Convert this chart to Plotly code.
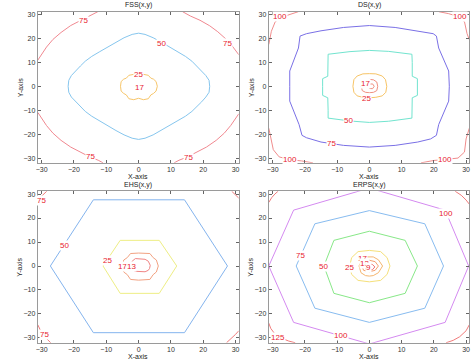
import plotly.graph_objects as go

# ---------------- data ----------------
TICKS = [-30, -20, -10, 0, 10, 20, 30]
TITLES = ["FSS(x,y)", "DS(x,y)", "EHS(x,y)", "ERPS(x,y)"]

# FSS
FSS_25_X = [-5.6, -5.4, -4.6, -3.8, -3.0, -1.5, 0, 1.5, 3.0, 3.8, 4.6, 5.4, 5.8, 5.4, 4.6, 3.8, 3.0, 1.5, 0, -1.5, -3.0, -3.8, -4.6, -5.4, -5.6]
FSS_25_Y = [0, 2.0, 3.0, 3.4, 4.6, 5.0, 4.6, 5.0, 4.6, 3.4, 3.0, 2.0, 0, -2.0, -3.0, -3.6, -5.2, -5.6, -5.0, -5.6, -5.2, -3.6, -3.0, -2.0, 0]
FSS_50_X = [-21.8, -21.6, -20.8, -19.5, -18, -16.5, -14.5, -12, -9.5, -7, -4.5, -2, 0, 2, 4.5, 7, 9.5, 12, 14.5, 16.5, 18, 19.5, 20.8, 21.8, 22,
            21.8, 20.8, 19.5, 18, 16.5, 14.5, 12, 9.5, 7, 4.5, 2, 0, -2, -4.5, -7, -9.5, -12, -14.5, -16.5, -18, -19.5, -20.8, -21.6, -21.8]
FSS_50_Y = [0, 2.5, 4.5, 6.5, 8.5, 10.5, 12.5, 14.5, 16.5, 18.5, 20.3, 21.7, 22.2, 21.7, 20.3, 18.5, 16.5, 14.5, 12.5, 10.5, 8.5, 6.5, 4.5, 2.5, 0,
            -2.5, -4.5, -6.5, -8.5, -10.5, -12.5, -14.5, -16.5, -18.5, -20.3, -21.7, -22.2, -21.7, -20.3, -18.5, -16.5, -14.5, -12.5, -10.5, -8.5, -6.5, -4.5, -2.5, 0]
FSS_75_TL_X = [-31.2, -30.0, -28.5, -26.5, -24.0, -21.0, -18.0, -15.0, -12.6]
FSS_75_TL_Y = [10.9, 13.6, 16.4, 19.6, 22.5, 25.4, 27.6, 29.6, 31.2]
FSS_75_TR_X = [13.6, 16.0, 19.0, 22.0, 24.5, 27.0, 29.0, 31.0]
FSS_75_TR_Y = [31.2, 29.4, 27.6, 25.3, 22.8, 19.8, 16.8, 13.2]
FSS_75_BL_X = [-31.2, -30.0, -28.5, -26.5, -24.0, -21.0, -18.0, -15.0, -12.5, -11.0]
FSS_75_BL_Y = [-10.9, -13.6, -16.4, -19.6, -22.6, -25.4, -27.6, -29.6, -30.9, -32.0]
FSS_75_BR_X = [11.0, 12.5, 15.0, 18.0, 21.0, 24.0, 26.5, 28.5, 30.0, 31.0]
FSS_75_BR_Y = [-32.0, -30.9, -29.6, -27.6, -25.4, -22.6, -19.6, -16.4, -13.6, -11.5]
FSS_LABELS = ["75", "75", "75", "75", "50", "25", "17"]
FSS_LABEL_X = [-17.2, 27.4, -14.8, 15.5, 7.1, 0.0, 0.2]
FSS_LABEL_Y = [27.5, 17.8, -29.3, -29.6, 17.9, 5.0, -0.5]

# DS
DS_13_X = [-0.5, 0, 1, 1.5, 1, 0, -0.5]
DS_13_Y = [0, 0.9, 1.0, 0, -1.0, -0.9, 0]
DS_17_X = [-2.5, -2.2, -1.2, 0, 1.3, 2.3, 2.6, 2.3, 1.3, 0, -1.2, -2.2, -2.5]
DS_17_Y = [0, 1.8, 2.7, 2.9, 2.7, 1.8, 0, -1.8, -2.5, -2.7, -2.5, -1.8, 0]
DS_25_X = [-5.1, -4.8, -3.8, -2, 0, 2, 4, 5.0, 5.4, 5.1, 4.0, 2, 0, -2, -3.8, -4.8, -5.1]
DS_25_Y = [0, 2.8, 4.3, 5.2, 5.3, 5.2, 4.3, 2.8, 0, -2.5, -4.0, -4.6, -4.8, -4.6, -4.0, -2.5, 0]
DS_50_X = [-14.5, -14.5, -12.9, -12.8, -12.8, -6, 0, 6, 13.2, 13.3, 13.3, 14.9, 14.9, 13.3, 13.3, 13.2, 6, 0, -6, -12.8, -12.8, -12.9, -14.5, -14.5]
DS_50_Y = [0, 3.2, 4.2, 10, 13.4, 14.5, 15.0, 14.6, 13.4, 10, 4.2, 3.2, -3.8, -4.8, -10, -13.3, -14.6, -15.1, -14.5, -13.3, -10, -4.8, -3.8, 0]
DS_75_X = [-24.7, -24.7, -22.0, -21.5, -19.5, -15, -8, 0, 8, 15, 19.8, 20.8, 21.5, 24.6, 24.8, 24.6, 21.5, 20.8, 19.0, 15, 8, 0, -8, -15, -19.5, -20.9, -21.8, -24.7, -24.7]
DS_75_Y = [0, 6.4, 16.0, 21.0, 22.0, 23.2, 24.6, 25.4, 24.6, 23.2, 22.0, 21.0, 16.0, 6.4, 0, -6.2, -16.0, -20.5, -22.0, -23.3, -24.7, -25.4, -24.7, -23.3, -21.5, -20.5, -16.0, -6.2, 0]
DS_100_TL_X = [-22.0, -24.5, -27.0, -29.2, -30.4, -31.2]
DS_100_TL_Y = [31.2, 30.2, 29.0, 27.0, 23.0, 17.5]
DS_100_TR_X = [21.5, 24.5, 27.5, 29.5, 30.3, 31.0]
DS_100_TR_Y = [31.2, 30.4, 29.2, 27.0, 22.0, 19.5]
DS_100_BL_X = [-31.2, -30.6, -29.8, -28.0, -25.0, -21.0, -17.5]
DS_100_BL_Y = [-17.5, -22.0, -26.5, -29.5, -30.6, -31.2, -32.0]
DS_100_BR_X = [16.0, 20.0, 24.0, 27.5, 29.5, 30.0, 31.0]
DS_100_BR_Y = [-32.0, -31.0, -30.5, -30.0, -27.5, -22.0, -17.5]
DS_LABELS = ["100", "100", "100", "100", "75", "50", "25", "17"]
DS_LABEL_X = [-27.6, 28.2, -24.5, 23.4, -11.7, -6.6, -1.0, -1.1]
DS_LABEL_Y = [29.0, 29.0, -30.5, -30.5, -23.8, -14.3, -4.9, 1.2]

# EHS
EHS_13_X = [-2.3, -2.0, -1, 0.5, 2.0, 3.0, 3.6, 3.4, 3.0, 2.0, 0.5, -1, -2.0, -2.3]
EHS_13_Y = [0, 2.0, 3.1, 3.1, 2.8, 2.0, 0.3, -1.0, -1.8, -2.4, -2.4, -2.2, -1.5, 0]
EHS_17_X = [-4.9, -4.6, -3.5, -2.5, 0, 3.5, 4.5, 5.5, 6.1, 5.5, 4.5, 3.5, 0, -2.5, -3.5, -4.6, -4.9]
EHS_17_Y = [0, 2.5, 3.5, 5.2, 5.4, 5.2, 3.5, 2.5, 0, -2.5, -3.6, -5.6, -5.9, -5.6, -3.6, -2.5, 0]
EHS_25_X = [-11.0, -5.7, 6.4, 11.8, 6.4, -5.7, -11.0]
EHS_25_Y = [0, 10.7, 10.7, 0, -11.4, -11.4, 0]
EHS_50_X = [-27.3, -14.0, 14.2, 27.5, 14.2, -14.0, -27.3]
EHS_50_Y = [0, 27.6, 27.6, 0, -27.8, -27.8, 0]
EHS_75_TL_X = [-31.2, -30.3, -29.3, -28.4]
EHS_75_TL_Y = [27.6, 28.8, 30.1, 31.2]
EHS_75_TR_X = [28.8, 29.8, 31.0]
EHS_75_TR_Y = [31.2, 29.8, 28.3]
EHS_75_BL_X = [-31.2, -30.3, -29.2, -28.0, -27.2]
EHS_75_BL_Y = [-24.5, -27.0, -29.3, -31.0, -32.0]
EHS_75_BR_X = [27.2, 28.5, 30.0, 31.0]
EHS_75_BR_Y = [-32.0, -30.5, -28.5, -27.0]
EHS_LABELS = ["75", "75", "50", "25", "17", "13"]
EHS_LABEL_X = [-29.9, -29.2, -23.0, -9.7, -5.1, -2.1]
EHS_LABEL_Y = [27.4, -28.7, 8.6, 2.1, -0.4, -0.4]

# ERPS
ERPS_9_X = [-1.3, -1, 0, 1, 1.7, 1, 0, -1, -1.3]
ERPS_9_Y = [-0.4, 0.6, 1.0, 0.6, -0.4, -1.5, -1.8, -1.5, -0.4]
ERPS_13_X = [-2.3, -1.8, 0, 1.8, 2.8, 1.8, 0, -1.8, -2.3]
ERPS_13_Y = [0, 1.8, 2.4, 1.8, 0, -1.8, -2.4, -1.8, 0]
ERPS_17_X = [-3.2, -2.6, -1.2, 0, 1.2, 2.8, 4.1, 2.8, 1.2, 0, -1.2, -2.6, -3.2]
ERPS_17_Y = [0, 2.6, 3.8, 3.9, 3.8, 2.6, 0, -2.8, -4.0, -4.2, -4.0, -2.8, 0]
ERPS_25_X = [-6.1, -5.5, -3.5, 0, 3.5, 5.5, 6.4, 5.5, 3.5, 0, -3.5, -5.5, -6.1]
ERPS_25_Y = [0, 3.5, 6.0, 6.5, 6.0, 3.5, 0, -3.5, -6.0, -6.6, -6.0, -3.5, 0]
ERPS_50_X = [-14.1, -11.0, 0, 11.1, 14.9, 11.1, 0, -11.0, -14.1]
ERPS_50_Y = [0, 10.7, 14.5, 10.7, 0, -11.4, -15.3, -11.4, 0]
ERPS_75_X = [-22.7, -16.9, 0, 17.2, 23.0, 17.2, 0, -16.9, -22.7]
ERPS_75_Y = [0, 17.6, 23.1, 17.6, 0, -17.6, -23.5, -17.6, 0]
ERPS_100_X = [-31.2, -23.5, 0, 23.5, 30.8, 23.5, 0, -23.5, -31.2]
ERPS_100_Y = [0, 23.3, 32.5, 23.3, 0, -23.5, -32.5, -23.5, 0]
ERPS_125_TL_X = [-31.2, -30.3, -29.3, -28.3]
ERPS_125_TL_Y = [26.5, 28.5, 30.0, 31.2]
ERPS_125_TR_X = [26.6, 28.5, 30.0, 31.0]
ERPS_125_TR_Y = [31.2, 29.5, 27.5, 25.8]
ERPS_125_BL_X = [-31.2, -30.6, -29.5, -27.5, -25.0, -23.0]
ERPS_125_BL_Y = [-23.8, -26.0, -28.0, -30.0, -31.3, -32.0]
ERPS_125_BR_X = [23.8, 26.0, 28.0, 30.0, 31.0]
ERPS_125_BR_Y = [-32.0, -31.0, -29.5, -27.0, -24.5]
ERPS_LABELS = ["125", "100", "100", "75", "50", "25", "17", "13", "9"]
ERPS_LABEL_X = [-28.4, -8.7, 23.9, -21.5, -14.1, -6.1, -2.0, -1.4, -0.3]
ERPS_LABEL_Y = [-29.7, -28.9, 21.7, 4.2, 0.0, -0.8, 3.0, 0.9, -0.8]

# ---------------- styling ----------------
FONT = "Helvetica, Arial, Liberation Sans, sans-serif"
LABEL_RED = "#e8222e"
C = {
    "fss25": "#f7c66b", "fss50": "#86c6ee", "fss75": "#f08890",
    "ds13": "#f09080", "ds17": "#f09080", "ds25": "#f7c466", "ds50": "#72e4cf", "ds75": "#7a70e6", "ds100": "#f08c8c",
    "ehs13": "#f08484", "ehs17": "#f2a282", "ehs25": "#eeee84", "ehs50": "#84b4ee", "ehs75": "#f07a7a",
    "erps9": "#f07272", "erps13": "#f4a070", "erps17": "#f5b670", "erps25": "#f5e07a", "erps50": "#88e888",
    "erps75": "#88bcf0", "erps100": "#d48af0", "erps125": "#f07a7a",
}

fig = go.Figure()

def add_line(xs, ys, color, ax):
    fig.add_trace(go.Scatter(x=xs, y=ys, mode="lines", line=dict(color=color, width=1),
                             hoverinfo="skip", showlegend=False, xaxis="x" + ax, yaxis="y" + ax))

# subplot 1 : FSS
add_line(FSS_25_X, FSS_25_Y, C["fss25"], "")
add_line(FSS_50_X, FSS_50_Y, C["fss50"], "")
for xs, ys in [(FSS_75_TL_X, FSS_75_TL_Y), (FSS_75_TR_X, FSS_75_TR_Y), (FSS_75_BL_X, FSS_75_BL_Y), (FSS_75_BR_X, FSS_75_BR_Y)]:
    add_line(xs, ys, C["fss75"], "")
# subplot 2 : DS
add_line(DS_13_X, DS_13_Y, C["ds13"], "2")
add_line(DS_17_X, DS_17_Y, C["ds17"], "2")
add_line(DS_25_X, DS_25_Y, C["ds25"], "2")
add_line(DS_50_X, DS_50_Y, C["ds50"], "2")
add_line(DS_75_X, DS_75_Y, C["ds75"], "2")
for xs, ys in [(DS_100_TL_X, DS_100_TL_Y), (DS_100_TR_X, DS_100_TR_Y), (DS_100_BL_X, DS_100_BL_Y), (DS_100_BR_X, DS_100_BR_Y)]:
    add_line(xs, ys, C["ds100"], "2")
# subplot 3 : EHS
add_line(EHS_13_X, EHS_13_Y, C["ehs13"], "3")
add_line(EHS_17_X, EHS_17_Y, C["ehs17"], "3")
add_line(EHS_25_X, EHS_25_Y, C["ehs25"], "3")
add_line(EHS_50_X, EHS_50_Y, C["ehs50"], "3")
for xs, ys in [(EHS_75_TL_X, EHS_75_TL_Y), (EHS_75_TR_X, EHS_75_TR_Y), (EHS_75_BL_X, EHS_75_BL_Y), (EHS_75_BR_X, EHS_75_BR_Y)]:
    add_line(xs, ys, C["ehs75"], "3")
# subplot 4 : ERPS
add_line(ERPS_9_X, ERPS_9_Y, C["erps9"], "4")
add_line(ERPS_13_X, ERPS_13_Y, C["erps13"], "4")
add_line(ERPS_17_X, ERPS_17_Y, C["erps17"], "4")
add_line(ERPS_25_X, ERPS_25_Y, C["erps25"], "4")
add_line(ERPS_50_X, ERPS_50_Y, C["erps50"], "4")
add_line(ERPS_75_X, ERPS_75_Y, C["erps75"], "4")
add_line(ERPS_100_X, ERPS_100_Y, C["erps100"], "4")
for xs, ys in [(ERPS_125_TL_X, ERPS_125_TL_Y), (ERPS_125_TR_X, ERPS_125_TR_Y), (ERPS_125_BL_X, ERPS_125_BL_Y), (ERPS_125_BR_X, ERPS_125_BR_Y)]:
    add_line(xs, ys, C["erps125"], "4")

annotations = []
for labels, lx, ly, ax in [(FSS_LABELS, FSS_LABEL_X, FSS_LABEL_Y, ""), (DS_LABELS, DS_LABEL_X, DS_LABEL_Y, "2"),
                           (EHS_LABELS, EHS_LABEL_X, EHS_LABEL_Y, "3"), (ERPS_LABELS, ERPS_LABEL_X, ERPS_LABEL_Y, "4")]:
    for t, x, y in zip(labels, lx, ly):
        annotations.append(dict(text=t, x=x, y=y, xref="x" + ax, yref="y" + ax, showarrow=False,
                                xanchor="center", yanchor="middle",
                                font=dict(family=FONT, size=8, color=LABEL_RED), bgcolor="white", borderpad=0))

W, H = 471, 364
# plot boxes in pixels (left, right, top, bottom)
BOXES = [(36, 238.3, 10.7, 162.3), (268.5, 470.3, 10.7, 162.3), (36, 238.3, 190.7, 342.7), (268.5, 470.3, 190.7, 342.7)]

def axis_common():
    return dict(tickvals=TICKS, ticks="inside", ticklen=3, tickwidth=1, tickcolor="#666",
                showline=True, linecolor="#9a9a9a", linewidth=1, mirror="ticks",
                showgrid=False, zeroline=False, tickfont=dict(family=FONT, size=7, color="#333"))

def text_ann(text, x, y, angle=0):
    return dict(text=text, x=x / W, y=1 - y / H, xref="paper", yref="paper", showarrow=False,
                xanchor="center", yanchor="middle", textangle=angle,
                font=dict(family=FONT, size=7, color="#222"))

layout_axes = {}
for i, (l, r, t, b) in enumerate(BOXES):
    suf = "" if i == 0 else str(i + 1)
    xa = axis_common()
    xa.update(domain=[l / W, r / W], range=[-31.2, 31.0], anchor="y" + suf)
    ya = axis_common()
    ya.update(domain=[1 - b / H, 1 - t / H], range=[-32.0, 31.2], anchor="x" + suf)
    layout_axes["xaxis" + suf] = xa
    layout_axes["yaxis" + suf] = ya
    cx = (l + r) / 2
    cy = (t + b) / 2
    annotations.append(text_ann(TITLES[i], cx, t - 6.5))
    annotations.append(text_ann("X-axis", cx, b + 13.5))
    annotations.append(text_ann("Y-axis", l - 18, cy, -90))

fig.update_layout(width=W, height=H, margin=dict(l=0, r=0, t=0, b=0), paper_bgcolor="white",
                  plot_bgcolor="white", showlegend=False, annotations=annotations, **layout_axes)

fig.write_html("out.html", config={"displayModeBar": False, "staticPlot": True},
               post_script="document.body.style.margin='0';document.body.style.overflow='hidden';")
